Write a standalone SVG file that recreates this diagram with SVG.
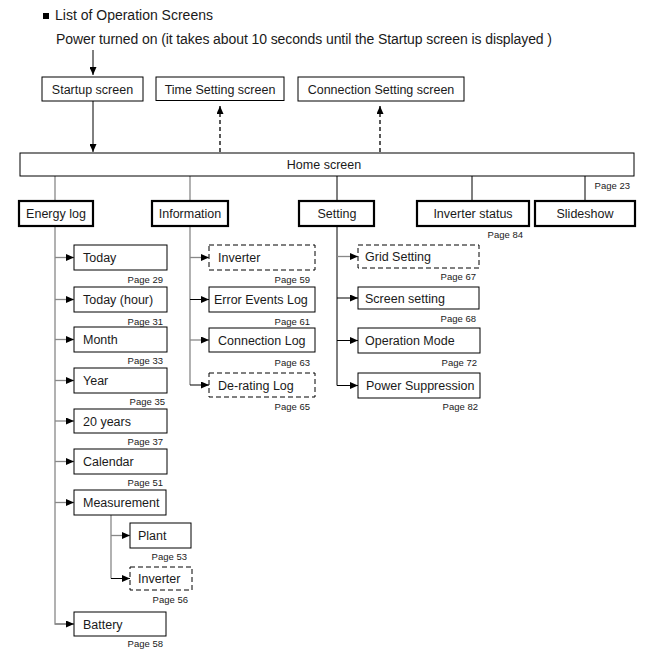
<svg xmlns="http://www.w3.org/2000/svg" width="658" height="662" viewBox="0 0 658 662">
<defs>
<marker id="ah" markerUnits="userSpaceOnUse" markerWidth="8" markerHeight="7" refX="8" refY="3.5" orient="auto">
<path d="M0,0 L8,3.5 L0,7 z" fill="#000"/>
</marker>
<style>
text{font-family:"Liberation Sans",Arial,sans-serif;fill:#1a1a1a}
.t{font-size:12.5px}
.h{font-size:14px}
.p{font-size:9.5px;text-anchor:end}
.c{text-anchor:middle}
.b{fill:#fff;stroke:#000;stroke-width:1}
.d{fill:#fff;stroke:#000;stroke-width:1;stroke-dasharray:5,3}
.k{fill:#fff;stroke:#000;stroke-width:2.2}
.g{stroke:#888;stroke-width:1.3;fill:none}
.s{stroke:#000;stroke-width:1;fill:none}
.ds{stroke:#000;stroke-width:1.3;fill:none;stroke-dasharray:4,3}
</style>
</defs>
<g id="title">
<rect x="43" y="13" width="6" height="6" fill="#000"/>
<text class="h" x="55" y="20">List of Operation Screens</text>
<text class="h" x="56" y="44" textLength="496">Power turned on (it takes about 10 seconds until the Startup screen is displayed )</text>
</g>
<g id="connectors">
<line class="s" x1="93" y1="50" x2="93" y2="75" marker-end="url(#ah)"/>
<line class="s" x1="93" y1="101" x2="93" y2="152" marker-end="url(#ah)"/>
<line class="ds" x1="220" y1="152" x2="220" y2="106" marker-end="url(#ah)"/>
<line class="ds" x1="380" y1="152" x2="380" y2="106" marker-end="url(#ah)"/>
<line class="g" x1="55" y1="176" x2="55" y2="201"/>
<line class="g" x1="190" y1="176" x2="190" y2="201"/>
<line class="s" x1="337" y1="176" x2="337" y2="201"/>
<line class="s" x1="472" y1="176" x2="472" y2="201"/>
<line class="s" x1="585" y1="176" x2="585" y2="201"/>
<path class="g" d="M55,226 V624 H74"/>
<line class="g" x1="55" y1="257.5" x2="74" y2="257.5" marker-end="url(#ah)"/>
<line class="g" x1="55" y1="299.5" x2="74" y2="299.5" marker-end="url(#ah)"/>
<line class="g" x1="55" y1="339.5" x2="74" y2="339.5" marker-end="url(#ah)"/>
<line class="g" x1="55" y1="380.5" x2="74" y2="380.5" marker-end="url(#ah)"/>
<line class="g" x1="55" y1="421" x2="74" y2="421" marker-end="url(#ah)"/>
<line class="g" x1="55" y1="461.5" x2="74" y2="461.5" marker-end="url(#ah)"/>
<line class="g" x1="55" y1="502.5" x2="74" y2="502.5" marker-end="url(#ah)"/>
<line class="g" x1="55" y1="624" x2="74" y2="624" marker-end="url(#ah)"/>
<path class="g" d="M111,515 V578.5"/>
<line class="g" x1="111" y1="535.5" x2="130" y2="535.5" marker-end="url(#ah)"/>
<line class="s" x1="111" y1="578.5" x2="130" y2="578.5" marker-end="url(#ah)"/>
<path class="g" d="M190,226 V385"/>
<line class="g" x1="190" y1="257.5" x2="209" y2="257.5" marker-end="url(#ah)"/>
<line class="s" x1="190" y1="299.5" x2="209" y2="299.5" marker-end="url(#ah)"/>
<line class="g" x1="190" y1="340" x2="209" y2="340" marker-end="url(#ah)"/>
<line class="s" x1="190" y1="385" x2="209" y2="385" marker-end="url(#ah)"/>
<path class="s" d="M337,226 V385.5"/>
<line class="g" x1="337" y1="256.5" x2="358" y2="256.5" marker-end="url(#ah)"/>
<line class="s" x1="337" y1="298" x2="358" y2="298" marker-end="url(#ah)"/>
<line class="s" x1="337" y1="340.5" x2="358" y2="340.5" marker-end="url(#ah)"/>
<line class="s" x1="337" y1="385.5" x2="358" y2="385.5" marker-end="url(#ah)"/>
</g>
<g id="startup"><rect class="b" x="42" y="77" width="101" height="24"/><text class="t c" x="92.5" y="93.5">Startup screen</text></g>
<g id="timesetting"><rect class="b" x="156" y="77" width="128" height="23.5"/><text class="t c" x="220" y="93.5">Time Setting screen</text></g>
<g id="connsetting"><rect class="b" x="298" y="77" width="166" height="24"/><text class="t c" x="381" y="93.5">Connection Setting screen</text></g>
<g id="home"><rect class="b" x="20" y="153" width="614" height="23"/><text class="t c" x="324" y="169">Home screen</text><text class="p" x="630" y="189">Page 23</text></g>
<g id="energylog"><rect class="k" x="19" y="201" width="74" height="25"/><text class="t c" x="56" y="218">Energy log</text></g>
<g id="information"><rect class="k" x="152" y="201" width="76" height="25"/><text class="t c" x="190" y="218">Information</text></g>
<g id="setting"><rect class="k" x="299" y="201" width="75" height="25"/><text class="t c" x="337" y="218">Setting</text></g>
<g id="inverterstatus"><rect class="k" x="417" y="201" width="112" height="25"/><text class="t c" x="473" y="218">Inverter status</text><text class="p" x="523" y="238">Page 84</text></g>
<g id="slideshow"><rect class="k" x="535" y="201" width="100" height="25"/><text class="t c" x="585" y="218">Slideshow</text></g>
<g id="today"><rect class="b" x="74" y="245" width="93" height="25"/><text class="t" x="83" y="262">Today</text><text class="p" x="163" y="283">Page 29</text></g>
<g id="todayhour"><rect class="b" x="74" y="287" width="93" height="25"/><text class="t" x="83" y="304">Today (hour)</text><text class="p" x="163" y="325">Page 31</text></g>
<g id="month"><rect class="b" x="74" y="327" width="93" height="25"/><text class="t" x="83" y="344">Month</text><text class="p" x="163" y="364">Page 33</text></g>
<g id="year"><rect class="b" x="74" y="368" width="93" height="25"/><text class="t" x="83" y="385">Year</text><text class="p" x="165" y="405">Page 35</text></g>
<g id="years20"><rect class="b" x="74" y="409" width="93" height="24"/><text class="t" x="83" y="425.5">20 years</text><text class="p" x="163" y="445">Page 37</text></g>
<g id="calendar"><rect class="b" x="74" y="449" width="93" height="25"/><text class="t" x="83" y="466">Calendar</text><text class="p" x="163" y="486">Page 51</text></g>
<g id="measurement"><rect class="b" x="74" y="490" width="92" height="25"/><text class="t" x="83" y="507">Measurement</text></g>
<g id="plant"><rect class="b" x="130" y="523" width="61" height="25"/><text class="t" x="138" y="540">Plant</text><text class="p" x="187" y="560">Page 53</text></g>
<g id="measinverter"><rect class="d" x="130" y="567" width="62" height="23"/><text class="t" x="138" y="583">Inverter</text><text class="p" x="188" y="603">Page 56</text></g>
<g id="battery"><rect class="b" x="74" y="612" width="92" height="24"/><text class="t" x="83" y="628.5">Battery</text><text class="p" x="163" y="647">Page 58</text></g>
<g id="infoinverter"><rect class="d" x="209" y="245" width="106" height="25"/><text class="t" x="218" y="262">Inverter</text><text class="p" x="310" y="283">Page 59</text></g>
<g id="errorlog"><rect class="b" x="209" y="287" width="106" height="25"/><text class="t" x="214" y="304">Error Events Log</text><text class="p" x="310" y="325">Page 61</text></g>
<g id="connlog"><rect class="b" x="209" y="328" width="106" height="24"/><text class="t" x="218" y="344.5">Connection Log</text><text class="p" x="310" y="366">Page 63</text></g>
<g id="deratinglog"><rect class="d" x="209" y="373" width="106" height="24"/><text class="t" x="218" y="389.5">De-rating Log</text><text class="p" x="310" y="410">Page 65</text></g>
<g id="gridsetting"><rect class="d" x="358" y="245" width="121" height="23"/><text class="t" x="365" y="261">Grid Setting</text><text class="p" x="476" y="280">Page 67</text></g>
<g id="screensetting"><rect class="b" x="358" y="287" width="121" height="22"/><text class="t" x="365" y="302.5">Screen setting</text><text class="p" x="476" y="322">Page 68</text></g>
<g id="operationmode"><rect class="b" x="358" y="328" width="122" height="25"/><text class="t" x="365" y="345">Operation Mode</text><text class="p" x="477" y="366">Page 72</text></g>
<g id="powersuppression"><rect class="b" x="358" y="373" width="122" height="25"/><text class="t" x="366" y="390">Power Suppression</text><text class="p" x="478" y="410">Page 82</text></g>
</svg>
